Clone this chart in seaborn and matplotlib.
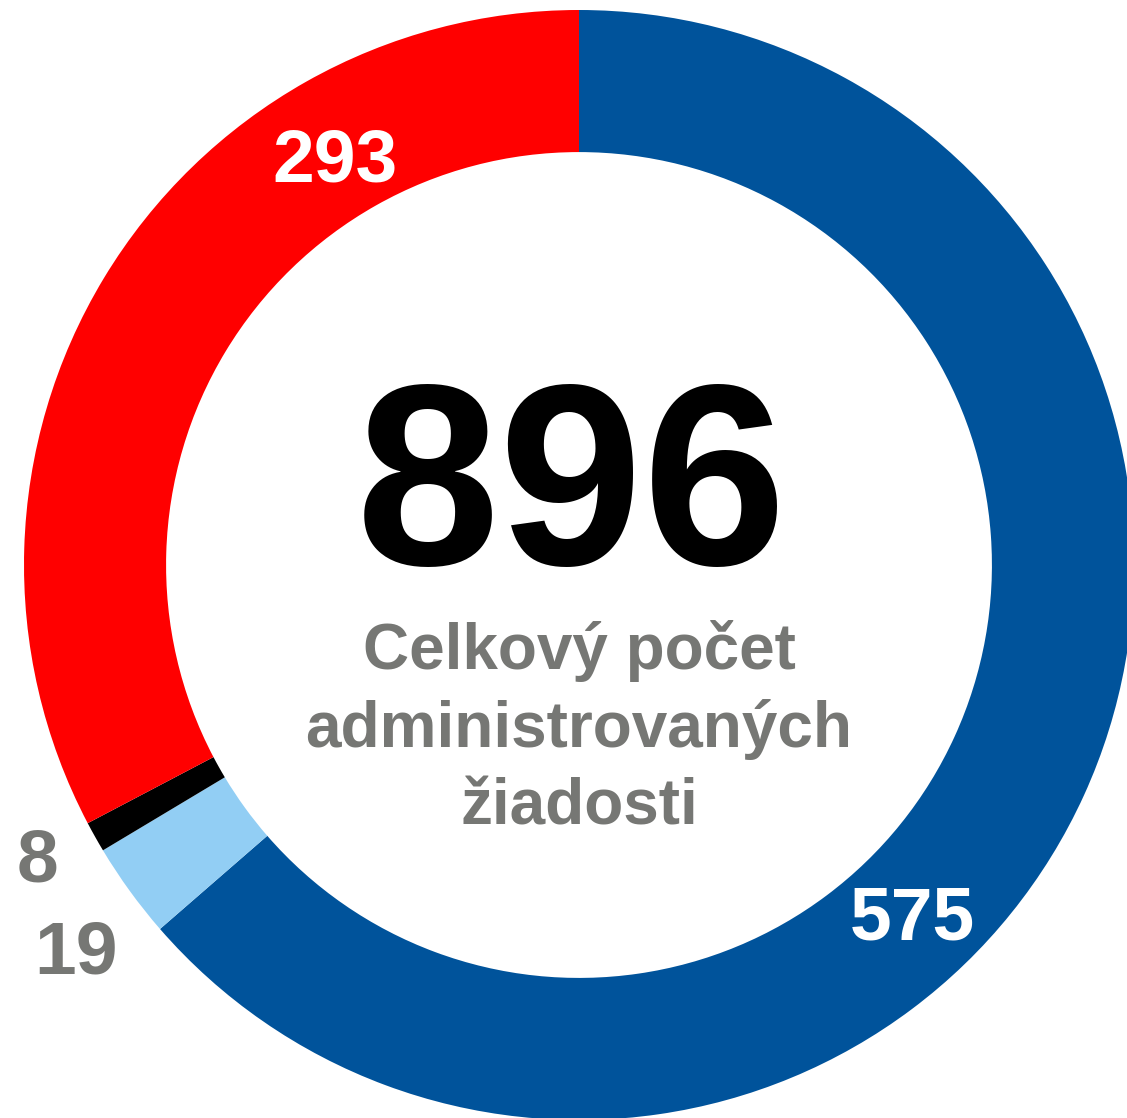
import matplotlib
matplotlib.use("Agg")
import matplotlib.pyplot as plt
import seaborn as sns

# data (wedge sizes as measured from the ring, labels as printed)
categories = ["Schválené", "Iné", "Zastavené", "Zamietnuté"]
values = [570, 25, 8, 293]
colors = ["#00539B", "#92CEF4", "#000000", "#FF0000"]
label_text = ["575", "19", "8", "293"]
total_text = "896"
subtitle = "Celkový počet\nadministrovaných\nžiadosti"

sns.set_theme(style="white")
plt.rcParams["font.family"] = ["Liberation Sans", "DejaVu Sans"]

fig = plt.figure(figsize=(11.27, 11.18), dpi=100)
ax = fig.add_axes([24 / 1127, -2 / 1118, 1110 / 1127, 1110 / 1118])

ax.pie(values, colors=colors, startangle=90, counterclock=False, radius=1.0,
       wedgeprops=dict(width=0.256, edgecolor="none"))
ax.set_xlim(-1, 1)
ax.set_ylim(-1, 1)
ax.set_aspect("auto")
ax.axis("off")

# value labels (positions like the original Excel layout)
label_pos = [(0.60, -0.64), (-0.906, -0.70), (-0.975, -0.535), (-0.44, 0.727)]
label_col = ["white", "#767774", "#767774", "white"]
for txt, (x, y), c in zip(label_text, label_pos, label_col):
    ax.text(x, y, txt, ha="center", va="center", fontsize=54,
            fontweight="bold", color=c)

ax.text(-0.014, 0.122, total_text, ha="center", va="center", fontsize=186,
        fontweight="bold", color="black")
ax.text(0.0, -0.295, subtitle, ha="center", va="center", fontsize=46,
        fontweight="bold", color="#767774", linespacing=1.36)

fig.savefig("out.png", dpi=100, facecolor="white")
